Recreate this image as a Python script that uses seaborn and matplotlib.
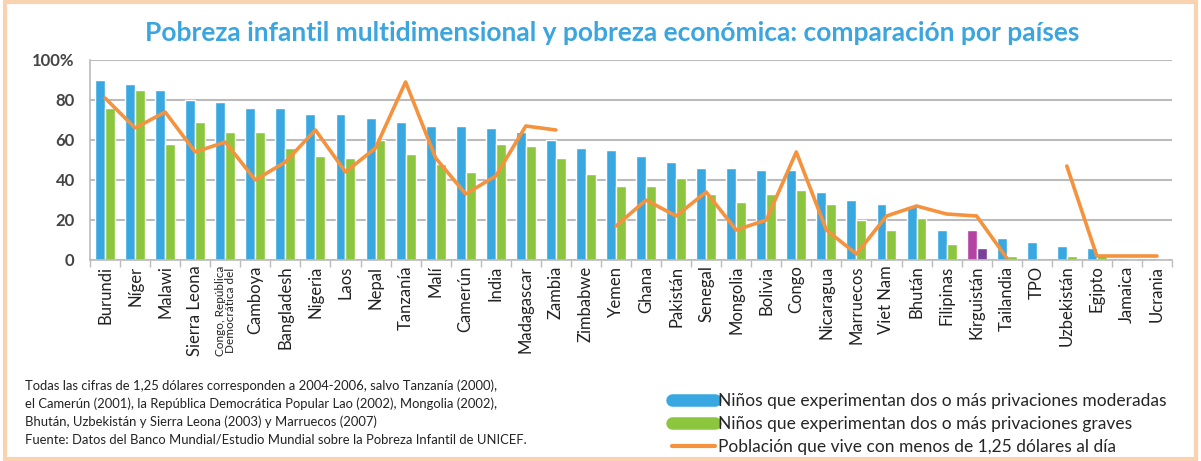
import numpy as np
import pandas as pd
import matplotlib.pyplot as plt
from matplotlib.lines import Line2D
from matplotlib.patches import Rectangle
import seaborn as sns

sns.set_theme(style="white")
plt.rcParams["font.family"] = ["Lato", "DejaVu Sans"]

countries = ["Burundi", "Níger", "Malawi", "Sierra Leona", "Congo, República\nDemocrática del",
             "Camboya", "Bangladesh", "Nigeria", "Laos", "Nepal", "Tanzanía", "Malí", "Camerún",
             "India", "Madagascar", "Zambia", "Zimbabwe", "Yemen", "Ghana", "Pakistán", "Senegal",
             "Mongolia", "Bolivia", "Congo", "Nicaragua", "Marruecos", "Viet Nam", "Bhután",
             "Filipinas", "Kirguistán", "Tailandia", "TPO", "Uzbekistán", "Egipto", "Jamaica", "Ucrania"]
moderate = [90, 88, 85, 80, 79, 76, 76, 73, 73, 71, 69, 67, 67, 66, 64, 60, 56, 55, 52, 49, 46, 46,
            45, 45, 34, 30, 28, 27, 15, 15, 11, 9, 7, 6, 1, 1]
severe = [76, 85, 58, 69, 64, 64, 56, 52, 51, 60, 53, 48, 44, 58, 57, 51, 43, 37, 37, 41, 33, 29,
          33, 35, 28, 20, 15, 21, 8, 6, 2, 0, 2, 3, 0.5, 0.5]
poverty = [81, 66, 74, 54, 59, 40, 49, 65, 44, 56, 89, 51, 33, 42, 67, 65, np.nan, 17, 30, 22, 34, 15,
           20, 54, 15, 3, 22, 27, 23, 22, 1, np.nan, 47, 2, 2, 2]

series_names = ["Niños que experimentan dos o más privaciones moderadas",
                "Niños que experimentan dos o más privaciones graves",
                "Población que vive con menos de 1,25 dólares al día"]
highlight = "Kirguistán"

blue = "#3aa8e0"
green = "#8cc63f"
orange = "#f5923e"

df = pd.DataFrame({"country": countries, "moderada": moderate, "grave": severe})
long_df = df.melt(id_vars="country", var_name="tipo", value_name="valor")

fig = plt.figure(figsize=(12.01, 4.61), dpi=100)
ax = fig.add_axes([90 / 1201, 1 - 260 / 461, 1082 / 1201, 200 / 461])

sns.barplot(data=long_df, x="country", y="valor", hue="tipo", palette=[blue, green],
            width=0.66, gap=0, saturation=1, legend=False, ax=ax)

# Kirguistán is drawn in purple in the source
k = countries.index(highlight)
ax.containers[0][k].set_facecolor("#b443a4")
ax.containers[1][k].set_facecolor("#7a3f98")

x = np.arange(len(countries))
ax.plot(x, poverty, color=orange, linewidth=2.6, zorder=5)

ax.set_ylim(0, 100)
ax.set_xlim(-0.5, len(countries) - 0.5)
ax.set_yticks([0, 20, 40, 60, 80, 100])
ax.set_yticklabels(["0", "20", "40", "60", "80", "100%"], fontsize=12, fontweight="bold", color="#444444")
ax.yaxis.grid(True, color="#bbbbbb", linewidth=1.5)
ax.set_axisbelow(True)
ax.tick_params(axis="y", length=7, color="#bbbbbb", width=1.2, pad=4)
ax.set_xticks(x)
ax.set_xticklabels(countries, rotation=90, fontsize=12, color="#222222")
for lbl in ax.get_xticklabels():
    if "\n" in lbl.get_text():
        lbl.set_fontsize(8.5)
        lbl.set_linespacing(0.9)
ax.set_xticks(np.arange(-0.5, len(countries)), minor=True)
ax.tick_params(axis="x", which="major", length=0, pad=4)
ax.tick_params(axis="x", which="minor", length=5, color="#bbbbbb", width=1, bottom=True)
ax.set(xlabel="", ylabel="")
for side in ["top", "right"]:
    ax.spines[side].set_visible(False)
ax.spines["left"].set_color("#bbbbbb")
ax.spines["bottom"].set_color("#bbbbbb")
ax.spines["left"].set_linewidth(1.2)
ax.spines["bottom"].set_linewidth(1.2)

fig.text(0.51, 1 - 33 / 461, "Pobreza infantil multidimensional y pobreza económica: comparación por países",
         ha="center", va="center", fontsize=19, fontweight="bold", color="#3aa5de")

note = ("Todas las cifras de 1,25 dólares corresponden a 2004-2006, salvo Tanzanía (2000),\n"
        "el Camerún (2001), la República Democrática Popular Lao (2002), Mongolia (2002),\n"
        "Bhután, Uzbekistán y Sierra Leona (2003) y Marruecos (2007)\n"
        "Fuente: Datos del Banco Mundial/Estudio Mundial sobre la Pobreza Infantil de UNICEF.")
fig.text(25 / 1201, 1 - 379 / 461, note, ha="left", va="top", fontsize=9.4,
         color="#222222", linespacing=1.55)

handles = [Line2D([], [], color=blue, linewidth=9),
           Line2D([], [], color=green, linewidth=9),
           Line2D([], [], color=orange, linewidth=3)]
fig.legend(handles, series_names, loc="upper left", bbox_to_anchor=(672 / 1201, 1 - 393 / 461),
           frameon=False, fontsize=12.5, handlelength=2.5, handletextpad=0.15, labelspacing=0.4,
           borderpad=0, borderaxespad=0)

fig.patches.append(Rectangle((0.004, 0.004), 0.992, 0.992, transform=fig.transFigure,
                             fill=False, edgecolor="#f9d2b0", linewidth=3))

fig.savefig("out.png", dpi=100)
